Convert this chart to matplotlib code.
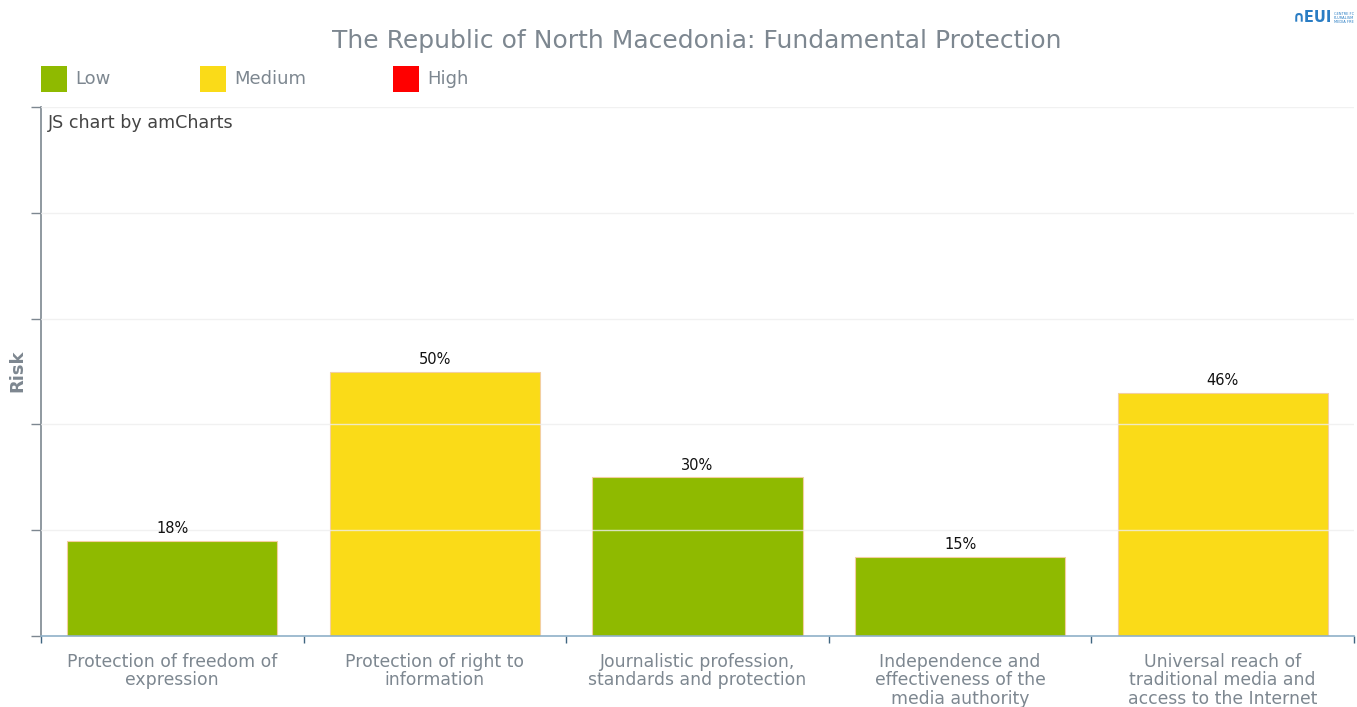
import matplotlib
matplotlib.use("Agg")
import matplotlib.pyplot as plt
from matplotlib.patches import Rectangle
import numpy as np

# ---------------------------------------------------------------------------
# Data
# ---------------------------------------------------------------------------

CATEGORIES = [
    "Protection of freedom of\nexpression",
    "Protection of right to\ninformation",
    "Journalistic profession,\nstandards and protection",
    "Independence and\neffectiveness of the\nmedia authority",
    "Universal reach of\ntraditional media and\naccess to the Internet",
]
RISK = [18, 50, 30, 15, 46]
LEVELS = ["Low", "Medium", "Low", "Low", "Medium"]

LEGEND_LABELS = ["Low", "Medium", "High"]
LEVEL_COLORS = {"Low": "#8fba00", "Medium": "#fadb18", "High": "#ff0000"}

TITLE = "The Republic of North Macedonia: Fundamental Protection"
GREY = "#7d8790"

W, H = 1357, 707


def px(x, y):
    """pixel coords (top-left origin) -> figure fraction"""
    return x / W, 1 - y / H


fig = plt.figure(figsize=(W / 100, H / 100), dpi=100)
fig.patch.set_facecolor("white")

# plot area
left, right, top, bottom = 41, 1354, 107, 636
ax = fig.add_axes([left / W, 1 - bottom / H, (right - left) / W, (bottom - top) / H])

x = np.arange(len(CATEGORIES))
colors = [LEVEL_COLORS[l] for l in LEVELS]
ax.bar(x, RISK, width=0.8, color=colors, edgecolor="#f3cfa0", linewidth=0.8, zorder=2)

for xi, v in zip(x, RISK):
    ax.text(xi, v + 0.9, f"{v}%", ha="center", va="bottom", fontsize=10.5, color="#111111", zorder=4)

ax.set_xlim(-0.5, len(CATEGORIES) - 0.5)
ax.set_ylim(0, 100)

# grid on top of bars, very faint
for gy in range(20, 101, 20):
    ax.axhline(gy, color="#eeeeee", linewidth=1.0, alpha=0.8, zorder=3)

ax.set_yticks(range(0, 101, 20))
ax.set_yticklabels([])
ax.tick_params(axis="y", direction="out", length=7, color=GREY, width=1)

ax.set_xticks(np.arange(-0.5, len(CATEGORIES)), minor=False)
ax.set_xticklabels([])
ax.tick_params(axis="x", direction="out", length=5, color="#3f6580", width=1)

for xi, lab in zip(x, CATEGORIES):
    ax.text(xi, -3.2, lab, ha="center", va="top", fontsize=12.4, color=GREY,
            linespacing=1.03, transform=ax.transData, clip_on=False)

for s in ["top", "right"]:
    ax.spines[s].set_visible(False)
ax.spines["left"].set_color(GREY)
ax.spines["left"].set_linewidth(1.2)
ax.spines["bottom"].set_color("#8fb0c8")
ax.spines["bottom"].set_linewidth(1.2)

fig.text(*px(17, 371), "Risk", rotation=90, ha="center", va="center", fontsize=13,
         fontweight="bold", color=GREY)

# title
fig.text(*px(697, 41), TITLE, ha="center", va="center", fontsize=18, color=GREY)

# legend
legend_x = [41, 200, 393]
for lx, lab in zip(legend_x, LEGEND_LABELS):
    fx, fy = px(lx, 92)
    fig.patches.append(Rectangle((fx, fy), 26 / W, 26 / H, transform=fig.transFigure,
                                 facecolor=LEVEL_COLORS[lab], edgecolor="none"))
    fig.text(*px(lx + 34, 79), lab, ha="left", va="center", fontsize=13, color=GREY)

# credit
fig.text(*px(48, 123), "JS chart by amCharts", ha="left", va="center", fontsize=12.6, color="#444444")

# logo
fig.text(*px(1293, 18), "\u2229EUI", ha="left", va="center", fontsize=10.5, fontweight="bold",
         color="#2a7dc4")
fig.text(*px(1334, 18), "CENTRE FC\nPLURALISM\nMEDIA FRE", ha="left", va="center",
         fontsize=2.6, color="#2a7dc4", linespacing=1.0)

fig.savefig("out.png", dpi=100)
